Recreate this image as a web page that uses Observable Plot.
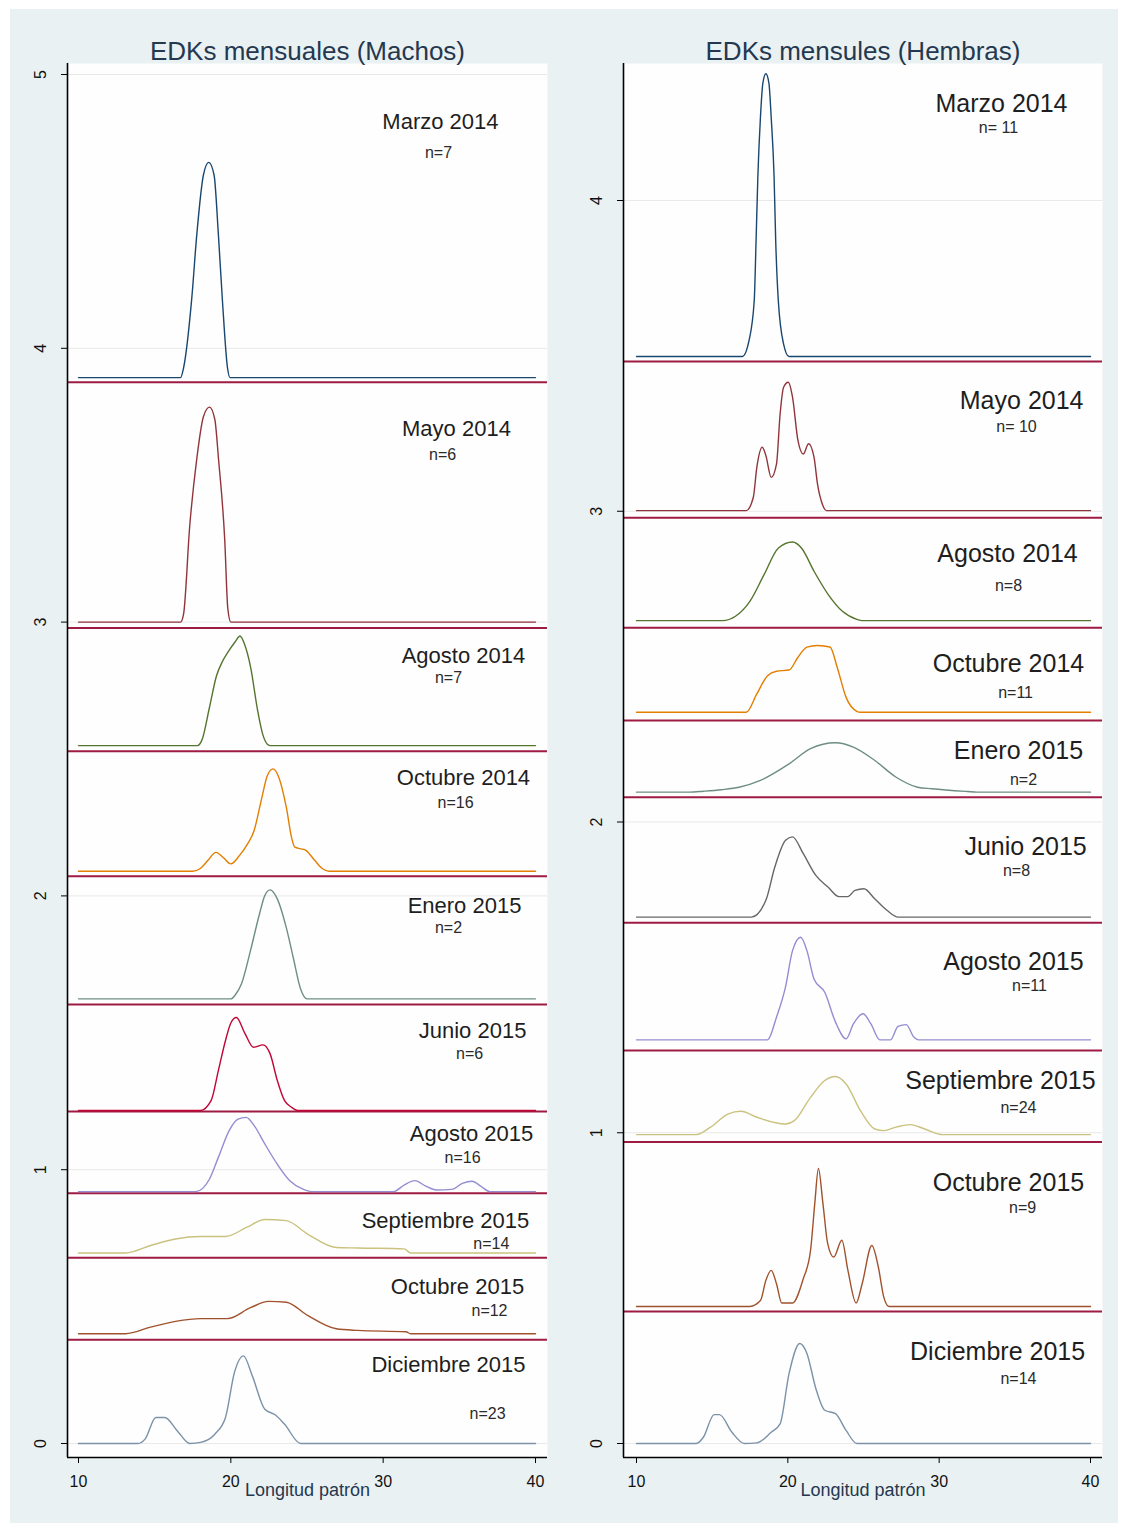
<!DOCTYPE html>
<html><head><meta charset="utf-8">
<script src="https://cdn.jsdelivr.net/npm/d3@7"></script>
<script src="https://cdn.jsdelivr.net/npm/@observablehq/plot@0.6"></script>
<style>
html,body{margin:0;padding:0;background:#fff;}
#wrap{position:relative;width:1124px;height:1526px;overflow:hidden;background:#fff;}
#bg{position:absolute;left:10px;top:9px;width:1108px;height:1514px;background:#eaf1f3;}
#left,#right{position:absolute;top:0;}
#left{left:0px;} #right{left:560px;}
</style></head><body>
<div id="wrap"><div id="bg"></div><div id="left"></div><div id="right"></div></div>
<script>
// ---------- shared ----------
const xTicks = [10, 20, 30, 40];
const months = ["Marzo 2014","Mayo 2014","Agosto 2014","Octubre 2014","Enero 2015",
                "Junio 2015","Agosto 2015","Septiembre 2015","Octubre 2015","Diciembre 2015"];

// ---------- Machos ----------
const machosTitle = "EDKs mensuales (Machos)";
const machosN = ["n=7","n=6","n=7","n=16","n=2","n=6","n=16","n=14","n=12","n=23"];
const machosYTicks = [0, 1, 2, 3, 4, 5];
const machosBase = [3.893, 3.0, 2.549, 2.090, 1.624, 1.216, 0.920, 0.696, 0.401, 0];
const machosSep  = [3.876, 2.978, 2.528, 2.072, 1.603, 1.213, 0.914, 0.678, 0.379];
// density above each baseline: [length, density]
const machosMarzo14 = [[10,0],[16.7,0],[16.9,0.036],[17.42,0.28],[17.77,0.525],[18.2,0.74],[18.55,0.786],[18.9,0.74],[19.18,0.525],[19.45,0.28],[19.78,0.036],[19.95,0],[40,0]];
const machosMayo14 = [[10,0],[16.7,0],[16.9,0.03],[17.3,0.35],[17.75,0.59],[18.2,0.75],[18.6,0.785],[18.95,0.74],[19.2,0.59],[19.6,0.3],[19.8,0.05],[20.0,0],[40,0]];
const machosAgo14 = [[10,0],[17.8,0],[18.1,0.02],[18.6,0.14],[19.06,0.255],[19.42,0.304],[19.8,0.34],[20.3,0.38],[20.6,0.40],[20.9,0.37],[21.3,0.286],[21.76,0.128],[22.1,0.04],[22.4,0.005],[22.6,0],[40,0]];
const machosOct14 = [[10,0],[17.5,0],[18.0,0.01],[18.5,0.04],[19.02,0.069],[19.5,0.05],[20.0,0.027],[20.6,0.06],[21.1,0.1],[21.53,0.149],[22.0,0.26],[22.4,0.35],[22.77,0.374],[23.1,0.35],[23.64,0.234],[24.0,0.12],[24.2,0.088],[24.6,0.082],[24.93,0.076],[25.5,0.04],[26.0,0.01],[26.45,0],[40,0]];
const machosEne15 = [[10,0],[20.0,0],[20.3,0.015],[20.7,0.055],[21.29,0.176],[21.88,0.31],[22.23,0.377],[22.58,0.398],[23.05,0.365],[23.64,0.26],[24.1,0.15],[24.58,0.036],[25.0,0],[40,0]];
const machosJun15 = [[10,0],[18.0,0],[18.71,0.037],[19.18,0.146],[19.65,0.256],[20.0,0.32],[20.36,0.34],[20.94,0.28],[21.48,0.231],[22.11,0.24],[22.58,0.207],[23.05,0.11],[23.52,0.037],[23.98,0.012],[24.4,0],[40,0]];
const machosAgo15 = [[10,0],[17.7,0],[18.6,0.046],[19.18,0.125],[19.89,0.223],[20.47,0.265],[21.01,0.271],[21.53,0.241],[22.23,0.174],[23.05,0.1],[23.87,0.04],[24.7,0.01],[25.3,0],[30.67,0],[31.4,0.025],[32.08,0.04],[32.8,0.02],[33.49,0.006],[34.5,0.008],[35.2,0.03],[35.83,0.038],[36.4,0.02],[37.0,0],[40,0]];
const machosSep15 = [[10,0],[13.09,0],[14.73,0.027],[16.37,0.051],[18.01,0.06],[19.65,0.06],[21.06,0.094],[22.23,0.122],[23.64,0.118],[25.04,0.069],[26.92,0.02],[28.33,0.018],[31.38,0.015],[31.8,0],[40,0]];
const machosOct15 = [[10,0],[13.09,0],[14.73,0.024],[16.37,0.045],[18.01,0.055],[19.77,0.055],[21.29,0.095],[22.47,0.118],[23.64,0.115],[25.04,0.067],[26.92,0.018],[28.33,0.012],[31.5,0.007],[31.8,0],[40,0]];
const machosDic15 = [[10,0],[13.9,0],[14.37,0.016],[15.08,0.095],[15.67,0.095],[16.49,0.046],[17.31,0],[18.01,0.004],[18.95,0.034],[19.65,0.095],[20.24,0.26],[20.83,0.32],[21.41,0.247],[22.23,0.125],[22.93,0.104],[23.52,0.071],[24.58,0],[40,0]];
const machosCurves = [machosMarzo14, machosMayo14, machosAgo14, machosOct14, machosEne15, machosJun15, machosAgo15, machosSep15, machosOct15, machosDic15];
// label anchors in data units [length, y]
const machosMonthAt = [[33.76,4.825],[34.81,3.704],[35.27,2.878],[35.27,2.432],[35.34,1.965],[35.87,1.505],[35.8,1.132],[34.09,0.811],[34.88,0.573],[34.29,0.2885]];
const machosNAt     = [[33.63,4.715],[33.9,3.612],[34.29,2.798],[34.75,2.341],[34.29,1.885],[35.67,1.424],[35.21,1.045],[37.1,0.730],[36.98,0.486],[36.85,0.1096]];

// ---------- Hembras ----------
const hembrasTitle = "EDKs mensules (Hembras)";
const hembrasN = ["n= 11","n= 10","n=8","n=11","n=2","n=8","n=11","n=24","n=9","n=14"];
const hembrasYTicks = [0, 1, 2, 3, 4];
const hembrasBase = [3.498, 3.002, 2.648, 2.353, 2.096, 1.694, 1.299, 0.994, 0.441, 0];
const hembrasSep  = [3.482, 2.979, 2.625, 2.327, 2.080, 1.676, 1.265, 0.970, 0.425];
const hembrasMarzo14 = [[10,0],[17.0,0],[17.43,0.05],[17.78,0.18],[17.9,0.37],[18.02,0.58],[18.19,0.77],[18.35,0.88],[18.55,0.91],[18.75,0.88],[18.9,0.77],[19.09,0.58],[19.2,0.37],[19.37,0.18],[19.72,0.04],[20.08,0],[40,0]];
const hembrasMayo14 = [[10,0],[17.25,0],[17.72,0.043],[17.95,0.139],[18.31,0.204],[18.55,0.177],[18.9,0.107],[19.25,0.15],[19.49,0.311],[19.72,0.397],[20.03,0.413],[20.31,0.365],[20.67,0.225],[21.02,0.182],[21.37,0.215],[21.73,0.172],[21.96,0.086],[22.32,0.016],[22.55,0],[40,0]];
const hembrasAgo14 = [[10,0],[15.7,0],[16.54,0.014],[17.49,0.062],[18.43,0.148],[19.38,0.234],[20.31,0.253],[20.9,0.234],[21.73,0.159],[22.67,0.084],[23.61,0.03],[24.56,0.004],[24.9,0],[40,0]];
const hembrasOct14 = [[10,0],[17.25,0],[17.95,0.059],[18.66,0.118],[19.25,0.132],[20.08,0.136],[20.67,0.177],[21.26,0.21],[21.96,0.215],[22.79,0.21],[23.26,0.145],[23.85,0.048],[24.56,0.003],[24.8,0],[40,0]];
const hembrasEne15 = [[10,0],[13.5,0],[14.42,0.003],[15.6,0.008],[16.78,0.016],[18.19,0.038],[20.08,0.091],[21.5,0.14],[23.15,0.159],[24.33,0.145],[25.75,0.102],[27.16,0.048],[28.57,0.016],[29.52,0.011],[31.88,0.002],[32.5,0],[40,0]];
const hembrasJun15 = [[10,0],[17.6,0],[18.55,0.054],[19.14,0.161],[19.85,0.247],[20.31,0.258],[21.02,0.204],[21.85,0.134],[22.67,0.096],[23.38,0.066],[23.97,0.066],[24.44,0.086],[25.03,0.091],[25.74,0.059],[26.57,0.021],[27.28,0],[40,0]];
const hembrasAgo15 = [[10,0],[18.66,0],[19.25,0.073],[19.84,0.169],[20.31,0.287],[20.85,0.33],[21.26,0.287],[21.73,0.196],[22.44,0.153],[23.15,0.057],[23.85,0.003],[24.33,0.051],[24.97,0.084],[25.49,0.051],[26.08,0],[26.79,0],[27.28,0.043],[27.82,0.049],[28.34,0.008],[28.64,0],[40,0]];
const hembrasSep15 = [[10,0],[13.95,0],[14.89,0.024],[16.07,0.067],[16.9,0.075],[17.95,0.056],[19.84,0.034],[20.43,0.045],[21.5,0.12],[22.44,0.174],[23.15,0.187],[23.85,0.163],[24.8,0.077],[25.75,0.018],[26.34,0.013],[27.16,0.024],[28.1,0.032],[29.05,0.018],[30.23,0],[40,0]];
const hembrasOct15 = [[10,0],[17.49,0],[18.19,0.019],[18.55,0.084],[18.9,0.116],[19.25,0.073],[19.6,0.011],[20.31,0.011],[21.02,0.089],[21.5,0.18],[21.78,0.331],[22.02,0.444],[22.32,0.331],[22.63,0.203],[23.03,0.159],[23.57,0.213],[23.97,0.116],[24.51,0.011],[24.91,0.073],[25.55,0.196],[25.98,0.127],[26.34,0.03],[26.69,0],[40,0]];
const hembrasDic15 = [[10,0],[13.95,0],[14.42,0.02],[15.13,0.093],[15.48,0.093],[16.31,0.036],[17.13,0],[17.95,0.002],[18.9,0.036],[19.49,0.063],[20.08,0.225],[20.79,0.322],[21.26,0.29],[21.85,0.177],[22.44,0.107],[23.15,0.096],[23.85,0.042],[24.56,0],[40,0]];
const hembrasCurves = [hembrasMarzo14, hembrasMayo14, hembrasAgo14, hembrasOct14, hembrasEne15, hembrasJun15, hembrasAgo15, hembrasSep15, hembrasOct15, hembrasDic15];
const hembrasMonthAt = [[34.12,4.309],[35.45,3.356],[34.52,2.861],[34.58,2.510],[35.24,2.230],[35.71,1.918],[34.91,1.548],[34.05,1.165],[34.58,0.837],[33.86,0.293]];
const hembrasNAt     = [[33.92,4.235],[35.11,3.273],[34.58,2.761],[35.05,2.417],[35.57,2.134],[35.11,1.844],[35.97,1.474],[35.24,1.081],[35.51,0.759],[35.24,0.209]];

// ---------- styles ----------
const FONT = '"Liberation Sans", Arial, Helvetica, sans-serif';
const SEP_COLOR = "#9e1b43";
const machosColors  = ["#1a476f","#90353b","#55752f","#e37e00","#6e8e84","#c10534","#938dd2","#cac27e","#a0522d","#7b92a8"];
const hembrasColors = ["#1a476f","#90353b","#55752f","#e37e00","#6e8e84","#676767","#938dd2","#cac27e","#a0522d","#7b92a8"];

function panel(cfg) {
  const rows = [];
  cfg.curves.forEach((c, i) => c.forEach(([x, h]) => rows.push({i, x, y: cfg.base[i] + h})));
  const monthRows = months.map((m, i) => ({t: m, x: cfg.monthAt[i][0], y: cfg.monthAt[i][1]}));
  const nRows = cfg.nText.map((t, i) => ({t, x: cfg.nAt[i][0], y: cfg.nAt[i][1]}));
  return Plot.plot({
    width: cfg.width, height: 1526,
    marginLeft: cfg.marginLeft, marginRight: cfg.marginRight, marginTop: 63, marginBottom: 69,
    style: {background: "transparent", fontFamily: FONT, overflow: "visible"},
    x: {domain: [10, 40], insetLeft: cfg.insetLeft, insetRight: cfg.insetRight},
    y: {domain: cfg.yDomain, insetTop: cfg.insetTop, insetBottom: 14},
    marks: [
      Plot.frame({fill: "#fefefe", stroke: null}),
      Plot.ruleY(cfg.yTicks, {stroke: "#e9e9e9", strokeWidth: 1}),
      Plot.ruleY(cfg.sep, {stroke: SEP_COLOR, strokeWidth: 2}),
      ...cfg.curves.map((c, i) => Plot.line(rows.filter(r => r.i === i),
        {x: "x", y: "y", stroke: cfg.colors[i], strokeWidth: 1.4, curve: "monotone-x"})),
      Plot.ruleX([10], {dx: -cfg.insetLeft, stroke: "#000", strokeWidth: 1.6}),
      Plot.ruleY([cfg.yDomain[0]], {dy: 14, stroke: "#000", strokeWidth: 1.6}),
      Plot.axisX({ticks: xTicks, tickSize: 6, tickPadding: 12, fontSize: 16, label: null, tickFormat: d => String(d), fill: "#111"}),
      Plot.axisY({ticks: cfg.yTicks, tickSize: 6, tickFormat: () => "", label: null}),
      Plot.text(cfg.yTicks, {x: 10, y: d => d, text: d => String(d), rotate: -90, dx: cfg.yLabelDx, fontSize: 16, fill: "#111"}),
      Plot.text([cfg.title], {frameAnchor: "top", text: d => d, dy: -22, fontSize: 26, fill: "#24384f"}),
      Plot.text(["Longitud patrón"], {frameAnchor: "bottom", text: d => d, dy: 38, fontSize: 18, fill: "#24384f"}),
      Plot.text(monthRows, {x: "x", y: "y", text: "t", fontSize: cfg.monthSize, fill: "#1e1e1e"}),
      Plot.text(nRows, {x: "x", y: "y", text: "t", fontSize: cfg.nSize, fill: "#2a2a2a"})
    ]
  });
}

document.getElementById("left").appendChild(panel({
  title: machosTitle, nText: machosN, base: machosBase, sep: machosSep, curves: machosCurves,
  colors: machosColors, monthAt: machosMonthAt, nAt: machosNAt, yTicks: machosYTicks, yDomain: [0, 5],
  width: 560, marginLeft: 67, marginRight: 13, insetLeft: 11, insetRight: 12, insetTop: 11,
  yLabelDx: -38, monthSize: 22, nSize: 16
}));
document.getElementById("right").appendChild(panel({
  title: hembrasTitle, nText: hembrasN, base: hembrasBase, sep: hembrasSep, curves: hembrasCurves,
  colors: hembrasColors, monthAt: hembrasMonthAt, nAt: hembrasNAt, yTicks: hembrasYTicks, yDomain: [0, 4],
  width: 564, marginLeft: 63, marginRight: 22, insetLeft: 13, insetRight: 12, insetTop: 137,
  yLabelDx: -40, monthSize: 25, nSize: 16
}));
</script>
</body></html>
